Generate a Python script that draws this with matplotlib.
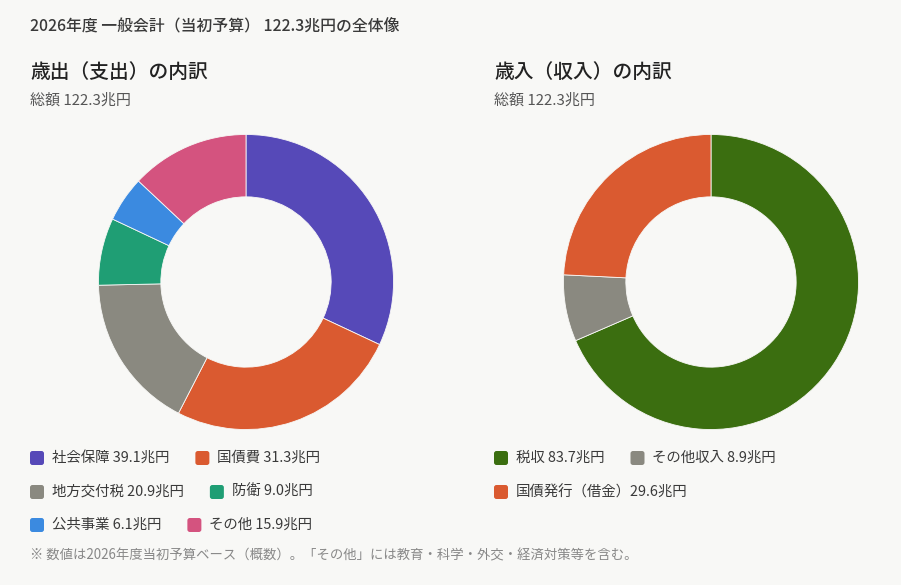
import matplotlib
matplotlib.use('Agg')
import matplotlib.pyplot as plt
from matplotlib.patches import FancyBboxPatch

plt.rcParams['font.family'] = ['Noto Sans CJK JP', 'DejaVu Sans']

# data
exp_labels = ['社会保障', '国債費', '地方交付税', '防衛', '公共事業', 'その他']
exp_values = [39.1, 31.3, 20.9, 9.0, 6.1, 15.9]
exp_colors = ['#5649b8', '#da5a30', '#8a8980', '#1f9e74', '#3b8ae0', '#d4537f']

rev_labels = ['税収', 'その他収入', '国債発行（借金）']
rev_values = [83.7, 8.9, 29.6]
rev_colors = ['#3b6e10', '#8a8980', '#da5a30']

total = 122.3
bg = '#f8f8f6'

W, H = 901, 585
fig = plt.figure(figsize=(W / 100, H / 100), dpi=100, facecolor=bg)
tr = fig.dpi_scale_trans


def px(x, y):
    # pixel (from top-left) -> inches
    return x / 100, (H - y) / 100


def text(x, y, s, **kw):
    return fig.text(*px(x, y), s, transform=tr, **kw)


def donut(cx, cy, r, r_in, values, colors):
    ax = fig.add_axes([(cx - r) / W, 1 - (cy + r) / H, 2 * r / W, 2 * r / H])
    ax.pie(values, colors=colors, startangle=90, counterclock=False,
           radius=1, wedgeprops=dict(width=1 - r_in / r, edgecolor=bg, linewidth=0.6))
    ax.set_xlim(-1.01, 1.01)
    ax.set_ylim(-1.01, 1.01)
    ax.set_aspect('equal')
    ax.axis('off')


def legend(x0, rows, labels, values, colors):
    renderer = fig.canvas.get_renderer()
    i = 0
    for y, n in rows:
        x = x0
        for _ in range(n):
            box = FancyBboxPatch(px(x, y + 7), 0.14, 0.14, transform=tr,
                                 boxstyle='round,pad=0,rounding_size=0.025',
                                 facecolor=colors[i], edgecolor='none')
            fig.patches.append(box)
            lab = labels[i]
            sep = '' if lab.endswith('）') else ' '
            t = text(x + 22, y, f'{lab}{sep}{values[i]:.1f}兆円', fontsize=10.4,
                     color='#3a3a3a', va='center', ha='left')
            w = t.get_window_extent(renderer).width
            x = x + 22 + w + 26
            i += 1


# header
text(30, 27, '2026年度 一般会計（当初予算） 122.3兆円の全体像', fontsize=11.4,
     color='#3a3a3a', va='center', fontweight='medium')

text(30, 72, '歳出（支出）の内訳', fontsize=14.2, color='#222222', va='center',
     fontweight='medium')
text(30, 101, f'総額 {total}兆円', fontsize=10.8, color='#555555', va='center')

text(494, 72, '歳入（収入）の内訳', fontsize=14.2, color='#222222', va='center',
     fontweight='medium')
text(494, 101, f'総額 {total}兆円', fontsize=10.8, color='#555555', va='center')

donut(246, 282, 149, 86, exp_values, exp_colors)
donut(711, 282, 149, 86, rev_values, rev_colors)

legend(30, [(458, 2), (492, 2), (525, 2)], exp_labels, exp_values, exp_colors)
legend(494, [(458, 2), (492, 1)], rev_labels, rev_values, rev_colors)

text(30, 555, '※ 数値は2026年度当初予算ベース（概数）。「その他」には教育・科学・外交・経済対策等を含む。',
     fontsize=9.6, color='#888888', va='center')

fig.savefig('out.png', dpi=100, facecolor=bg)
